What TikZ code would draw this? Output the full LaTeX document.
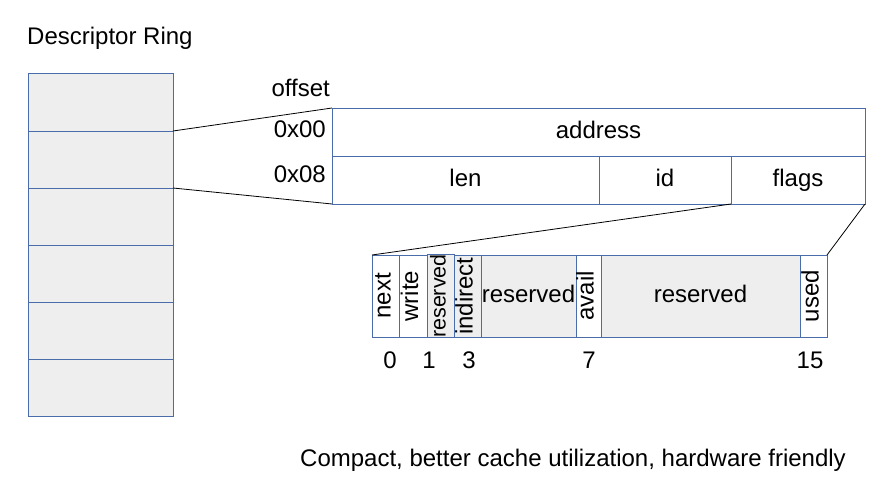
\documentclass[tikz,border=0pt]{standalone}
\usepackage{fontspec}
\setmainfont{Liberation Sans}
\usepackage{tikz}
\definecolor{cellline}{RGB}{74,108,170}
\definecolor{cellfill}{RGB}{238,238,238}
\tikzset{
  cell/.style={draw=cellline, line width=1pt, inner sep=0pt, outer sep=0pt, text height=1.25em, text depth=0pt},
  grey/.style={cell, fill=cellfill},
  vbit/.style={cell, rotate=90, minimum width=82pt, text height=1em},
  hbit/.style={cell, minimum height=82pt},
  txt/.style={inner sep=0pt, text height=1.25em, text depth=0pt},
  link/.style={draw=black, line width=0.8pt}
}
\begin{document}
\begin{tikzpicture}[x=1pt, y=-1pt, font=\fontsize{24}{28}\selectfont]
\useasboundingbox (0,0) rectangle (892,495);
\node[txt, anchor=west] (title) at (27,38) {Descriptor Ring};
\foreach \i in {1,...,6}
  \node[grey, minimum width=145pt, minimum height=57pt] (ring\i) at (100.5,45.5+57*\i) {};

\node[txt, anchor=east] (offset) at (330,90) {offset};
\node[txt, anchor=east] (off00) at (326,131) {0x00};
\node[txt, anchor=east] (off08) at (326,176) {0x08};

\node[cell, minimum width=533pt, minimum height=48pt] (address) at (598.5,132) {address};
\node[cell, minimum width=267pt, minimum height=48pt] (len) at (465.5,180) {len};
\node[cell, minimum width=132pt, minimum height=48pt] (id) at (665,180) {id};
\node[cell, minimum width=134pt, minimum height=48pt] (flags) at (798,180) {flags};

\node[vbit, minimum height=27pt] (next) at (385.5,296) {next};
\node[vbit, minimum height=28pt] (write) at (413,296) {write};
\node[vbit, fill=cellfill, minimum height=27pt, font=\fontsize{21.5}{24}\selectfont] (rsvd1) at (440.5,296) {reserved};
\node[vbit, fill=cellfill, minimum height=27pt] (indirect) at (467.5,296) {indirect};
\node[hbit, fill=cellfill, minimum width=95pt] (rsvd2) at (528.5,296) {reserved};
\node[vbit, minimum height=25pt] (avail) at (588.5,296) {avail};
\node[hbit, fill=cellfill, minimum width=199pt] (rsvd3) at (700.5,296) {reserved};
\node[vbit, minimum height=27pt] (used) at (813.5,296) {used};

\node[txt] (b0) at (390,362) {0};
\node[txt] (b1) at (429,362) {1};
\node[txt] (b3) at (469,362) {3};
\node[txt] (b7) at (589,362) {7};
\node[txt] (b15) at (810,362) {15};

\draw[link] (ring2.north east) -- (address.north west);
\draw[link] (ring2.south east) -- (len.south west);
\draw[link] (flags.south west) -- (next.north east);
\draw[link] (flags.south east) -- (used.south east);

\node[txt] (note) at (573,460) {Compact, better cache utilization, hardware friendly};
\end{tikzpicture}
\end{document}
